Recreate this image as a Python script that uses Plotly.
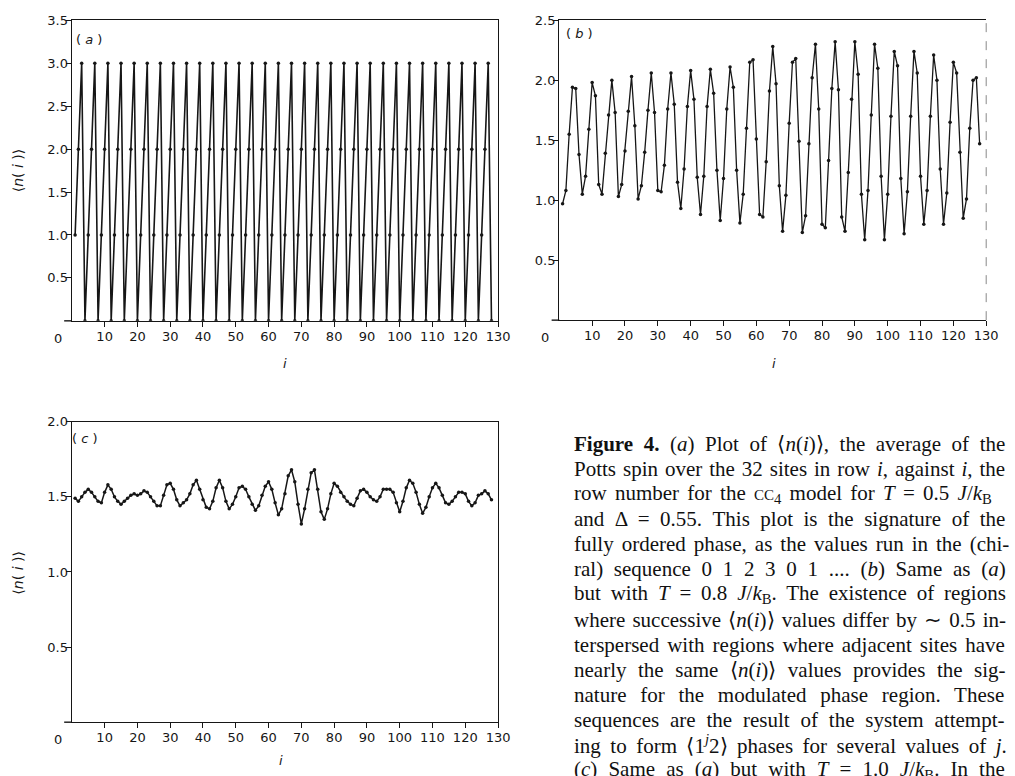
import plotly.graph_objects as go

# ---------------- data ----------------
rows = list(range(1, 129))

n_a = [1, 2, 3, 0, 1, 2, 3, 0, 1, 2, 3, 0, 1, 2, 3, 0,
       1, 2, 3, 0, 1, 2, 3, 0, 1, 2, 3, 0, 1, 2, 3, 0,
       1, 2, 3, 0, 1, 2, 3, 0, 1, 2, 3, 0, 1, 2, 3, 0,
       1, 2, 3, 0, 1, 2, 3, 0, 1, 2, 3, 0, 1, 2, 3, 0,
       1, 2, 3, 0, 1, 2, 3, 0, 1, 2, 3, 0, 1, 2, 3, 0,
       1, 2, 3, 0, 1, 2, 3, 0, 1, 2, 3, 0, 1, 2, 3, 0,
       1, 2, 3, 0, 1, 2, 3, 0, 1, 2, 3, 0, 1, 2, 3, 0,
       1, 2, 3, 0, 1, 2, 3, 0, 1, 2, 3, 0, 1, 2, 3, 0]

n_b = [0.97, 1.08, 1.55, 1.94, 1.93, 1.38, 1.05, 1.20, 1.59, 1.98,
       1.87, 1.13, 1.05, 1.39, 1.71, 2.00, 1.73, 1.03, 1.13, 1.41,
       1.74, 2.03, 1.62, 1.01, 1.12, 1.40, 1.75, 2.06, 1.73, 1.08,
       1.07, 1.29, 1.76, 2.06, 1.80, 1.15, 0.93, 1.26, 1.78, 2.08,
       1.84, 1.19, 0.88, 1.20, 1.78, 2.09, 1.89, 1.25, 0.83, 1.18,
       1.76, 2.11, 1.94, 1.25, 0.81, 1.05, 1.60, 2.15, 2.17, 1.51,
       0.88, 0.86, 1.32, 1.91, 2.28, 1.97, 1.12, 0.74, 1.04, 1.64,
       2.15, 2.18, 1.49, 0.73, 0.87, 1.47, 2.02, 2.30, 1.76, 0.80,
       0.77, 1.33, 1.93, 2.32, 1.92, 0.86, 0.74, 1.23, 1.84, 2.32,
       2.05, 1.05, 0.67, 1.08, 1.71, 2.30, 2.10, 1.20, 0.67, 1.05,
       1.70, 2.24, 2.12, 1.18, 0.72, 1.07, 1.70, 2.24, 2.06, 1.20,
       0.80, 1.08, 1.70, 2.21, 2.00, 1.26, 0.80, 1.06, 1.65, 2.15,
       2.06, 1.40, 0.85, 1.01, 1.60, 2.00, 2.02, 1.47]

n_c = [1.49, 1.47, 1.50, 1.53, 1.55, 1.53, 1.50, 1.47, 1.46, 1.53,
       1.58, 1.55, 1.50, 1.47, 1.45, 1.47, 1.49, 1.51, 1.52, 1.51,
       1.52, 1.54, 1.53, 1.50, 1.47, 1.44, 1.44, 1.51, 1.58, 1.59,
       1.55, 1.48, 1.44, 1.46, 1.48, 1.52, 1.58, 1.61, 1.55, 1.48,
       1.43, 1.42, 1.47, 1.56, 1.61, 1.56, 1.47, 1.42, 1.45, 1.50,
       1.56, 1.57, 1.55, 1.50, 1.45, 1.41, 1.44, 1.51, 1.57, 1.60,
       1.55, 1.46, 1.38, 1.42, 1.52, 1.64, 1.68, 1.60, 1.45, 1.32,
       1.42, 1.55, 1.66, 1.68, 1.55, 1.40, 1.35, 1.42, 1.52, 1.59,
       1.57, 1.53, 1.50, 1.47, 1.45, 1.44, 1.49, 1.54, 1.55, 1.53,
       1.50, 1.48, 1.47, 1.50, 1.55, 1.55, 1.55, 1.53, 1.46, 1.40,
       1.47, 1.56, 1.61, 1.59, 1.53, 1.45, 1.39, 1.43, 1.50, 1.56,
       1.59, 1.56, 1.51, 1.46, 1.45, 1.47, 1.50, 1.53, 1.53, 1.52,
       1.47, 1.44, 1.46, 1.51, 1.52, 1.54, 1.52, 1.48]

x_ticks = [10, 20, 30, 40, 50, 60, 70, 80, 90, 100, 110, 120, 130]
y_ticks_a = [0.5, 1.0, 1.5, 2.0, 2.5, 3.0, 3.5]
y_ticks_b = [0.5, 1.0, 1.5, 2.0, 2.5]
y_ticks_c = [0.5, 1.0, 1.5, 2.0]

caption_lines = [
    "<b>Figure 4.</b> (<i>a</i>) Plot of ⟨<i>n</i>(<i>i</i>)⟩, the average of the",
    "Potts spin over the 32 sites in row <i>i</i>, against <i>i</i>, the",
    "row number for the <span style='font-size:15px'>CC</span><sub>4</sub> model for <i>T</i> = 0.5 <i>J</i>/<i>k</i><sub>B</sub>",
    "and Δ = 0.55. This plot is the signature of the",
    "fully ordered phase, as the values run in the (chi-",
    "ral) sequence 0 1 2 3 0 1 .... (<i>b</i>) Same as (<i>a</i>)",
    "but with <i>T</i> = 0.8 <i>J</i>/<i>k</i><sub>B</sub>. The existence of regions",
    "where successive ⟨<i>n</i>(<i>i</i>)⟩ values differ by ∼ 0.5 in-",
    "terspersed with regions where adjacent sites have",
    "nearly the same ⟨<i>n</i>(<i>i</i>)⟩ values provides the sig-",
    "nature for the modulated phase region. These",
    "sequences are the result of the system attempt-",
    "ing to form ⟨1<sup><i>j</i></sup>2⟩ phases for several values of <i>j</i>.",
    "(<i>c</i>) Same as (<i>a</i>) but with <i>T</i> = 1.0 <i>J</i>/<i>k</i><sub>B</sub>. In the",
]
# extra word spacing (px) per caption line, to imitate the justified setting
caption_word_spacing = [5.3, 1.7, 3.0, 5.25, 2.75, 5.45, 4.6, 1.9, 2.8, 6.3, 8.5, 5.6, 4.25, 5.85]

# ---------------- figure ----------------
W, H = 1015, 776
INK = "#161616"
TICKFONT = dict(family="DejaVu Sans", size=13, color=INK)


def px_x(p):
    return p / W


def px_y(p):
    return 1 - p / H


fig = go.Figure()

marker_style = dict(color=INK, size=3.5)

fig.add_trace(go.Scatter(x=rows, y=n_a, mode="lines+markers", line=dict(color=INK, width=1.6),
                         marker=marker_style, xaxis="x", yaxis="y", showlegend=False))
fig.add_trace(go.Scatter(x=rows, y=n_b, mode="lines+markers", line=dict(color=INK, width=1.3),
                         marker=marker_style, xaxis="x2", yaxis="y2", showlegend=False))
fig.add_trace(go.Scatter(x=rows, y=n_c, mode="lines+markers", line=dict(color=INK, width=1.5),
                         marker=marker_style, xaxis="x3", yaxis="y3", showlegend=False))

ax_common = dict(showgrid=False, zeroline=False, showline=True, linecolor=INK, linewidth=1.4,
                 ticks="outside", ticklen=5, tickwidth=1, tickcolor=INK, tickfont=TICKFONT)
x_common = dict(ticklabelstandoff=-2, **ax_common)
y_common = dict(ticklabelstandoff=-5, tickformat=".1f", **ax_common)

dom_a_x = [px_x(72.7), px_x(504)]
dom_a_y = [px_y(316.7), px_y(13.5)]
dom_b_x = [px_x(566), px_x(998)]
dom_b_y = [px_y(316), px_y(13.3)]
dom_c_x = [px_x(72.7), px_x(504)]
dom_c_y = [px_y(721.7), px_y(418.5)]

fig.update_layout(
    width=W, height=H,
    margin=dict(l=0, r=0, t=0, b=0),
    paper_bgcolor="white", plot_bgcolor="white",
    xaxis=dict(domain=dom_a_x, range=[0, 130], tickvals=x_ticks, anchor="y", mirror=True, **x_common),
    yaxis=dict(domain=dom_a_y, range=[0, 3.5], tickvals=y_ticks_a, anchor="x", mirror=True, **y_common),
    xaxis2=dict(domain=dom_b_x, range=[0, 130], tickvals=x_ticks, anchor="y2", mirror=True, **x_common),
    yaxis2=dict(domain=dom_b_y, range=[0, 2.5], tickvals=y_ticks_b, anchor="x2", mirror=False, **y_common),
    xaxis3=dict(domain=dom_c_x, range=[0, 130], tickvals=x_ticks, anchor="y3", mirror=True, **x_common),
    yaxis3=dict(domain=dom_c_y, range=[0, 2.0], tickvals=y_ticks_c, anchor="x3", mirror=True, **y_common),
)

# dashed right border of panel (b)
fig.add_shape(type="line", xref="x2 domain", yref="y2 domain", x0=1, x1=1, y0=0, y1=1,
              line=dict(color="#888", width=1, dash="dash"))
# short extension of each x-axis line to the left of the y axis
for xr, yr in (("x domain", "y domain"), ("x2 domain", "y2 domain"), ("x3 domain", "y3 domain")):
    fig.add_shape(type="line", xref=xr, yref=yr, x0=-0.018, x1=0, y0=0, y1=0,
                  line=dict(color=INK, width=1.4))

ann = []
# origin "0" labels
for xr, yr in (("x", "y"), ("x2", "y2"), ("x3", "y3")):
    ann.append(dict(text="0", x=0, y=0, xref=xr, yref=yr, xanchor="center", yanchor="top",
                    xshift=-14, yshift=-8, showarrow=False, font=TICKFONT))

# panel letters
LETTERFONT = dict(family="DejaVu Sans", size=13, color=INK)
for txt, xc, yc in (("( <i>a</i> )", 90, 33), ("( <i>b</i> )", 586, 27), ("( <i>c</i> )", 86, 435)):
    ann.append(dict(text=txt, x=px_x(xc), y=px_y(yc), xref="paper", yref="paper",
                    xanchor="center", yanchor="middle", showarrow=False, font=LETTERFONT))

# axis titles
ytitle = "⟨<i>n</i>( <i>i</i> )⟩"
for yc in (165, 571):
    ann.append(dict(text=ytitle, x=px_x(18), y=px_y(yc), xref="paper", yref="paper", textangle=-90,
                    xanchor="center", yanchor="middle",
                    showarrow=False, font=dict(family="DejaVu Sans", size=14, color=INK)))
for xc, yc in ((288, 360), (783, 360), (284, 760)):
    ann.append(dict(text="<i>i</i>", x=px_x(xc), y=px_y(yc), xref="paper", yref="paper",
                    xanchor="center", yanchor="middle",
                    showarrow=False, font=dict(family="DejaVu Sans", size=13, color=INK)))

# caption
for k, txt in enumerate(caption_lines):
    yc = 441 + k * 25.3
    ws = caption_word_spacing[k]
    ann.append(dict(text=f"<span style='word-spacing:{ws}px'>{txt}</span>",
                    x=px_x(579), y=px_y(yc), xref="paper", yref="paper",
                    xanchor="left", yanchor="middle", align="left", showarrow=False,
                    font=dict(family="Liberation Serif", size=21, color="#111")))

fig.update_layout(annotations=ann)

fig.write_html("out.html")
